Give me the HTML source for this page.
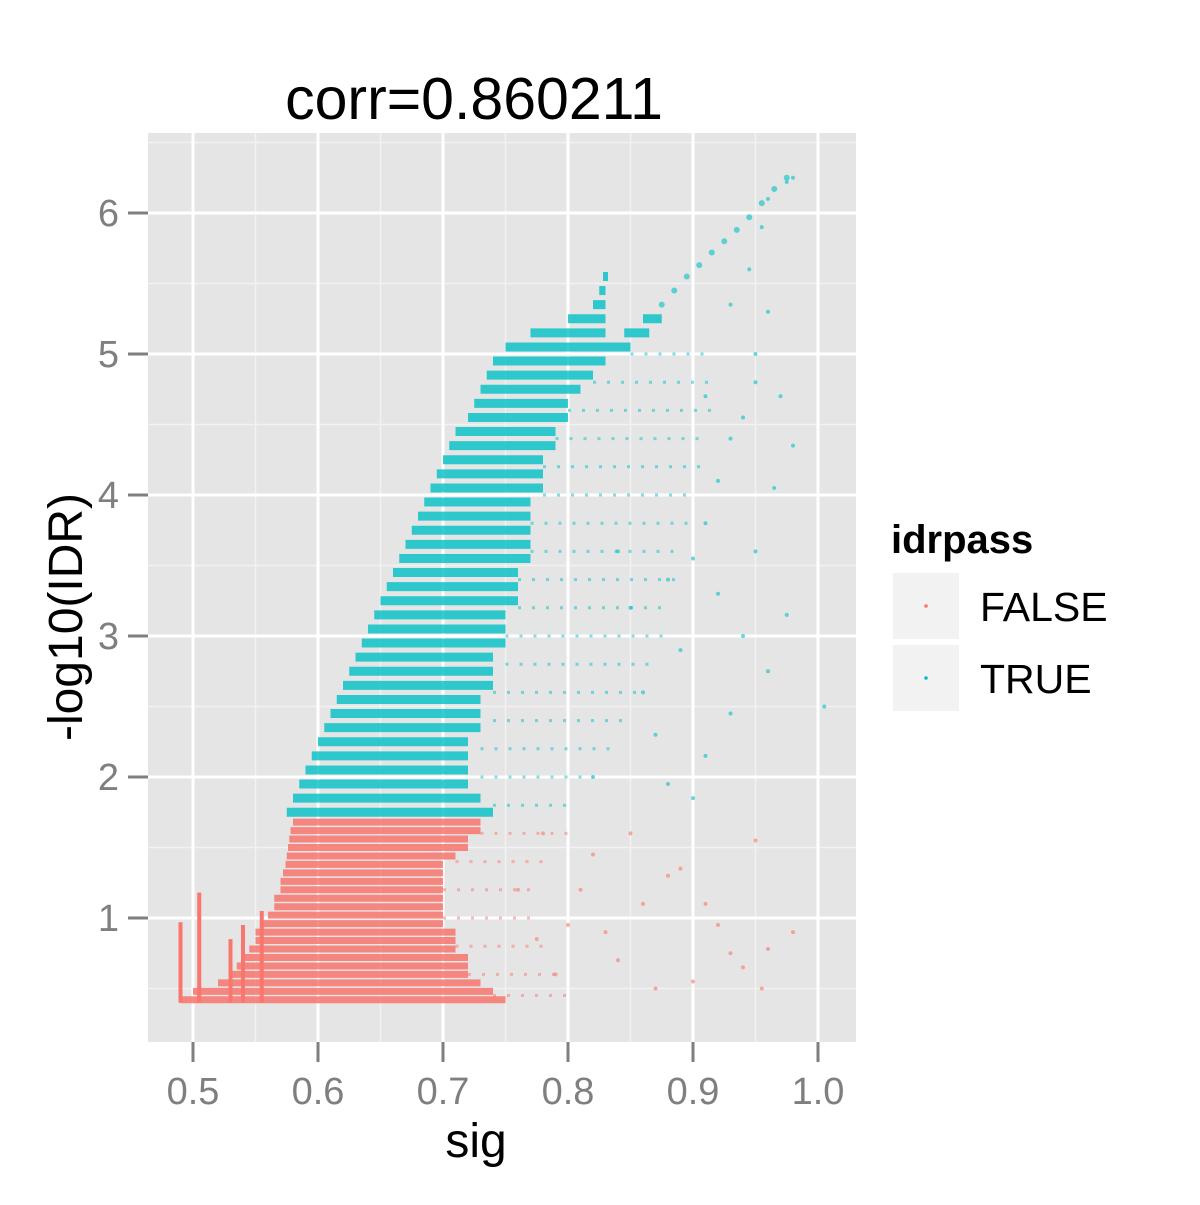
<!DOCTYPE html>
<html><head><meta charset="utf-8"><style>
body{margin:0;background:#fff}
svg text{font-family:"Liberation Sans",sans-serif}
</style></head><body>
<svg id="chart" width="1200" height="1200" xmlns="http://www.w3.org/2000/svg">
<rect x="0" y="0" width="1200" height="1200" fill="#fff"/>
<text x="474" y="119" font-size="59" text-anchor="middle">corr=0.860211</text>
<rect x="148" y="133" width="708" height="909" fill="#e5e5e5"/>
<g id="grid"></g>
<g id="marks"></g>
<g id="axes"></g>
<text x="476" y="1157" font-size="48" text-anchor="middle">sig</text>
<text transform="translate(82,617) rotate(-90)" font-size="48" text-anchor="middle">-log10(IDR)</text>
<g>
<text x="891" y="553" font-size="40" font-weight="bold">idrpass</text>
<g>
<rect x="893" y="573" width="66" height="66" fill="#f2f2f2"/>
<circle cx="926" cy="606" r="1.8" fill="#F8766D"/>
<text x="980" y="621" font-size="41">FALSE</text></g>
<g>
<rect x="893" y="645" width="66" height="66" fill="#f2f2f2"/>
<circle cx="926" cy="678" r="1.8" fill="#00BFC4"/>
<text x="980" y="693" font-size="41">TRUE</text></g>
</g>
</svg>
<script>
const xTicks=[0.5,0.6,0.7,0.8,0.9,1.0];
const xTickLabels=["0.5","0.6","0.7","0.8","0.9","1.0"];
const yTicks=[1,2,3,4,5,6];
const yTickLabels=["1","2","3","4","5","6"];
// dense streak rows: [y, xStart, xEnd]
const redRows=[[0.42,0.49,0.75],[0.48,0.50,0.74],[0.54,0.52,0.73],[0.60,0.53,0.72],[0.66,0.535,0.72],[0.72,0.54,0.72],[0.78,0.545,0.71],[0.84,0.55,0.71],[0.90,0.55,0.71],[0.96,0.555,0.70],[1.02,0.56,0.70],[1.08,0.565,0.70],[1.14,0.565,0.70],[1.20,0.57,0.70],[1.26,0.57,0.70],[1.32,0.572,0.70],[1.38,0.574,0.70],[1.44,0.575,0.71],[1.50,0.576,0.72],[1.56,0.577,0.72],[1.62,0.578,0.73],[1.68,0.58,0.73]];
const redSpikes=[[0.49,0.40,0.97],[0.505,0.40,1.18],[0.53,0.40,0.85],[0.54,0.40,0.95],[0.555,0.40,1.05]];
const tealRows=[[1.75,0.575,0.74],[1.85,0.58,0.73],[1.95,0.585,0.72],[2.05,0.59,0.72],[2.15,0.595,0.72],[2.25,0.60,0.72],[2.35,0.605,0.73],[2.45,0.61,0.73],[2.55,0.615,0.73],[2.65,0.62,0.74],[2.75,0.625,0.74],[2.85,0.63,0.74],[2.95,0.635,0.75],[3.05,0.64,0.75],[3.15,0.645,0.75],[3.25,0.65,0.76],[3.35,0.655,0.76],[3.45,0.66,0.76],[3.55,0.665,0.77],[3.65,0.67,0.77],[3.75,0.675,0.77],[3.85,0.68,0.77],[3.95,0.685,0.77],[4.05,0.69,0.78],[4.15,0.695,0.78],[4.25,0.70,0.78],[4.35,0.705,0.79],[4.45,0.71,0.79],[4.55,0.72,0.80],[4.65,0.725,0.80],[4.75,0.73,0.81],[4.85,0.735,0.82],[4.95,0.74,0.83],[5.05,0.75,0.83],[5.15,0.77,0.83],[5.25,0.80,0.83],[5.35,0.82,0.83],[5.45,0.825,0.83],[5.55,0.828,0.832],[5.05,0.83,0.85],[5.15,0.845,0.865],[5.25,0.86,0.875]];
const tealTail=[[1.8,0.74,0.80],[2.0,0.73,0.82],[2.2,0.73,0.84],[2.4,0.74,0.85],[2.6,0.74,0.86],[2.8,0.75,0.87],[3.0,0.75,0.88],[3.2,0.76,0.88],[3.4,0.76,0.89],[3.6,0.77,0.89],[3.8,0.77,0.90],[4.0,0.78,0.90],[4.2,0.78,0.91],[4.4,0.79,0.91],[4.6,0.80,0.92],[4.8,0.82,0.92],[5.0,0.85,0.91]];
const redTail=[[0.45,0.74,0.80],[0.6,0.72,0.79],[0.8,0.71,0.78],[1.0,0.70,0.77],[1.2,0.70,0.77],[1.4,0.71,0.78],[1.6,0.73,0.80]];
const tealDiagX=[0.875,0.885,0.895,0.905,0.915,0.925,0.935,0.945,0.955,0.965,0.975];
const tealDiagY=[5.35,5.45,5.55,5.63,5.72,5.8,5.88,5.97,6.07,6.17,6.25];
const tealSparseX=[0.98,0.975,0.96,0.955,0.945,0.96,0.95,0.97,0.98,0.94,0.93,0.92,0.91,0.90,0.92,0.94,0.96,0.975,1.005,0.965,0.95,0.93,0.91,0.90,0.88,0.87,0.86,0.89,0.85,0.84,0.82,0.88,0.91,0.93,0.95];
const tealSparseY=[6.25,6.22,6.1,5.9,5.6,5.3,5.0,4.7,4.35,4.55,4.4,4.1,3.8,3.55,3.3,3.0,2.75,3.15,2.5,4.05,3.6,2.45,2.15,1.85,1.95,2.3,2.6,2.9,3.2,3.6,2.0,3.4,4.7,5.35,4.8];
const redSparseX=[0.95,0.92,0.98,0.90,0.88,0.86,0.84,0.82,0.80,0.78,0.76,0.93,0.96,0.91,0.87,0.83,0.81,0.79,0.94,0.89,0.85,0.775,0.955];
const redSparseY=[1.55,0.95,0.9,0.55,1.3,1.1,0.7,1.45,0.95,1.6,1.2,0.75,0.78,1.1,0.5,0.9,1.2,0.6,0.65,1.35,1.6,0.85,0.5];

const X=v=>193+(v-0.5)*1250;
const Y=v=>918-(v-1)*141;
const NS='http://www.w3.org/2000/svg';
function mk(tag,attrs,parent){const e=document.createElementNS(NS,tag);for(const k in attrs)e.setAttribute(k,attrs[k]);parent.appendChild(e);return e;}
const grid=document.getElementById('grid'),marks=document.getElementById('marks'),axes=document.getElementById('axes');
[0.55,0.65,0.75,0.85,0.95].forEach(v=>{const l=mk('line',{x1:X(v),x2:X(v),y1:133,y2:1042,stroke:'#f2f2f2','stroke-width':1.5},grid);

});
[0.5,1.5,2.5,3.5,4.5,5.5,6.5].forEach(v=>{if(Y(v)<133)return;const l=mk('line',{x1:148,x2:856,y1:Y(v),y2:Y(v),stroke:'#f2f2f2','stroke-width':1.5},grid);

});
xTicks.forEach((v,i)=>{const l=mk('line',{x1:X(v),x2:X(v),y1:133,y2:1042,stroke:'#fff','stroke-width':3},grid);


const t=mk('line',{x1:X(v),x2:X(v),y1:1042,y2:1062,stroke:'#7f7f7f','stroke-width':3},axes);


const tx=mk('text',{x:X(v),y:1104,'font-size':38,fill:'#7f7f7f','text-anchor':'middle'},axes);tx.textContent=xTickLabels[i];

});
yTicks.forEach((v,i)=>{const l=mk('line',{x1:148,x2:856,y1:Y(v),y2:Y(v),stroke:'#fff','stroke-width':3},grid);


const t=mk('line',{x1:128,x2:148,y1:Y(v),y2:Y(v),stroke:'#7f7f7f','stroke-width':3},axes);


const tx=mk('text',{x:119,y:Y(v)+13,'font-size':38,fill:'#7f7f7f','text-anchor':'end'},axes);tx.textContent=yTickLabels[i];

});
function rows(arr,color,w,op,name,dash){arr.forEach(r=>{const a={x1:X(r[1]),x2:X(r[2]),y1:Y(r[0]),y2:Y(r[0]),stroke:color,'stroke-width':w,'stroke-opacity':op};if(dash)a['stroke-dasharray']=dash;const l=mk('line',a,marks);

});}
rows(redTail,'#F8766D',3,0.5,'false-sparse-band','3 11');
rows(tealTail,'#00BFC4',3,0.5,'true-sparse-band','3 11');
rows(redRows,'#F8766D',7,0.85,'false-streak');
rows(tealRows,'#00BFC4',9,0.8,'true-streak');
redSpikes.forEach(s=>{const l=mk('line',{x1:X(s[0]),x2:X(s[0]),y1:Y(s[1]),y2:Y(s[2]),stroke:'#F8766D','stroke-width':4},marks);

});
tealDiagX.forEach((v,i)=>{const c=mk('circle',{cx:X(v),cy:Y(tealDiagY[i]),r:3,fill:'#00BFC4','fill-opacity':0.6},marks);

});
tealSparseX.forEach((v,i)=>{const c=mk('circle',{cx:X(v),cy:Y(tealSparseY[i]),r:2,fill:'#00BFC4','fill-opacity':0.6},marks);

});
redSparseX.forEach((v,i)=>{const c=mk('circle',{cx:X(v),cy:Y(redSparseY[i]),r:2,fill:'#F8766D','fill-opacity':0.6},marks);

});
</script>
</body></html>
